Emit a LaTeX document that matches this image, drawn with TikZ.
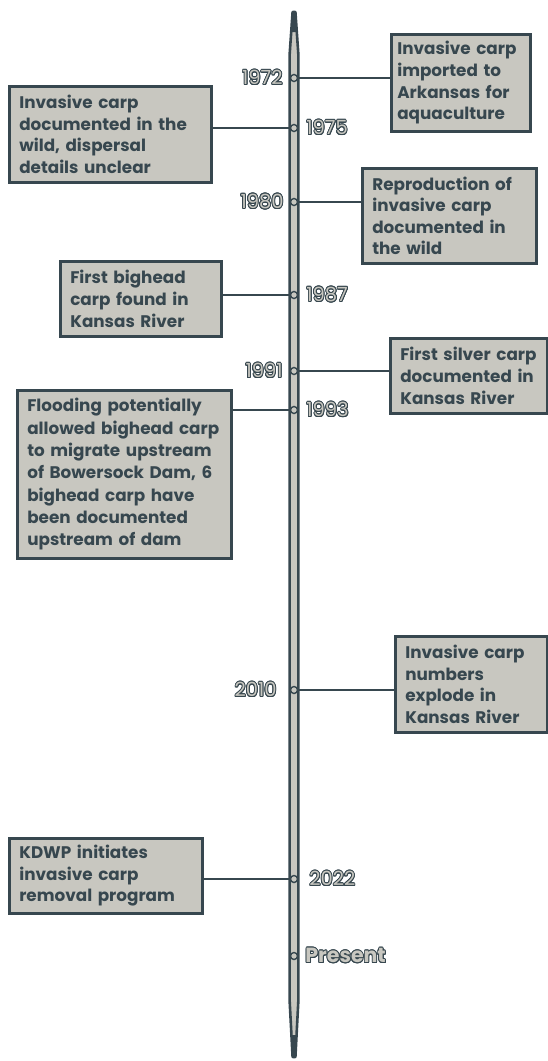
\documentclass[tikz,border=0pt]{standalone}
\usepackage{fontspec}
\setmainfont{Poppins}
\usepackage{contour}
\contourlength{0.9pt}
\definecolor{dk}{RGB}{55,71,79}
\definecolor{lt}{RGB}{200,199,192}
\tikzset{
  evbox/.style n args={3}{draw=dk, line width=2.6bp, fill=lt, text=dk,
    font=\fontsize{16.8bp}{21.6bp}\selectfont\bfseries, align=left,
    anchor=north west, inner xsep=10bp, inner ysep=0pt,
    minimum width=#1, minimum height=#2, text width=#3},
  dot/.style={circle, draw=dk, fill=lt, line width=1.4bp, minimum size=7bp, inner sep=0pt},
  conn/.style={draw=dk, line width=2bp},
  yr/.style={font=\fontsize{19.5bp}{22bp}\selectfont, text=lt, inner sep=0pt},
}
\newcommand{\yrtext}[1]{\contour{dk}{#1}}
\begin{document}
\begin{tikzpicture}[x=1bp,y=-1bp]
\useasboundingbox (0,0) rectangle (548,1061);
% axis
\path[fill=lt, draw=dk, line width=2.6bp, line join=round]
  (292.6,12) -- (295.4,12) -- (298.4,55) -- (298.4,1000) -- (295.4,1057) -- (292.6,1057)
  -- (289.6,1000) -- (289.6,55) -- cycle;
\fill[dk] (292.6,12) -- (295.4,12) -- (296.6,32) -- (291.4,32) -- cycle;
\fill[dk] (292.6,1057) -- (295.4,1057) -- (296.6,1035) -- (291.4,1035) -- cycle;

% boxes
\node[evbox={139bp}{97bp}{127bp}, inner xsep=6bp] (b1) at (390,33) {Invasive carp\\imported to\\Arkansas for\\aquaculture};
\node[evbox={202bp}{96bp}{182bp}] (b2) at (8,85) {Invasive carp\\documented in the\\wild, dispersal\\details unclear};
\node[evbox={174bp}{95bp}{154bp}] (b3) at (361,167) {Reproduction of\\invasive carp\\documented in\\the wild};
\node[evbox={161bp}{75bp}{141bp}] (b4) at (59,260) {First bighead\\carp found in\\Kansas River};
\node[evbox={157bp}{75bp}{137bp}] (b5) at (389,337) {First silver carp\\documented in\\Kansas River};
\node[evbox={214bp}{168bp}{194bp}, font=\fontsize{16.8bp}{22.3bp}\selectfont\bfseries] (b6) at (16,389) {Flooding potentially\\allowed bighead carp\\to migrate upstream\\of Bowersock Dam, 6\\bighead carp have\\been documented\\upstream of dam};
\node[evbox={152bp}{96bp}{132bp}] (b7) at (394,635) {Invasive carp\\numbers\\explode in\\Kansas River};
\node[evbox={193bp}{75bp}{173bp}] (b8) at (8,837) {KDWP initiates\\invasive carp\\removal program};

% dots
\node[dot] (d1) at (294,78) {};
\node[dot] (d2) at (294,128) {};
\node[dot] (d3) at (294,202) {};
\node[dot] (d4) at (294,295) {};
\node[dot] (d5) at (294,371) {};
\node[dot] (d6) at (294,410) {};
\node[dot] (d7) at (294,690) {};
\node[dot] (d8) at (294,879) {};
\node[dot] (d9) at (294,956) {};

% connectors
\draw[conn] (d1.east) -- (d1.east -| b1.west);
\draw[conn] (d2.west) -- (d2.west -| b2.east);
\draw[conn] (d3.east) -- (d3.east -| b3.west);
\draw[conn] (d4.west) -- (d4.west -| b4.east);
\draw[conn] (d5.east) -- (d5.east -| b5.west);
\draw[conn] (d6.west) -- (d6.west -| b6.east);
\draw[conn] (d7.east) -- (d7.east -| b7.west);
\draw[conn] (d8.west) -- (d8.west -| b8.east);

% year labels
\node[yr, anchor=east] (y1) at ([xshift=-7bp]d1.west) {\yrtext{1972}};
\node[yr, anchor=west] (y2) at ([xshift=8bp]d2.east) {\yrtext{1975}};
\node[yr, anchor=east] (y3) at ([xshift=-6bp]d3.west) {\yrtext{1980}};
\node[yr, anchor=west] (y4) at ([xshift=8bp]d4.east) {\yrtext{1987}};
\node[yr, anchor=east] (y5) at ([xshift=-7bp]d5.west) {\yrtext{1991}};
\node[yr, anchor=west] (y6) at ([xshift=8bp]d6.east) {\yrtext{1993}};
\node[yr, anchor=east] (y7) at ([xshift=-13bp]d7.west) {\yrtext{2010}};
\node[yr, anchor=west] (y8) at ([xshift=11bp]d8.east) {\yrtext{2022}};
\node[yr, anchor=west, font=\fontsize{20.5bp}{22bp}\selectfont\bfseries] (y9) at ([xshift=7bp]d9.east) {\yrtext{Present}};
\end{tikzpicture}
\end{document}
